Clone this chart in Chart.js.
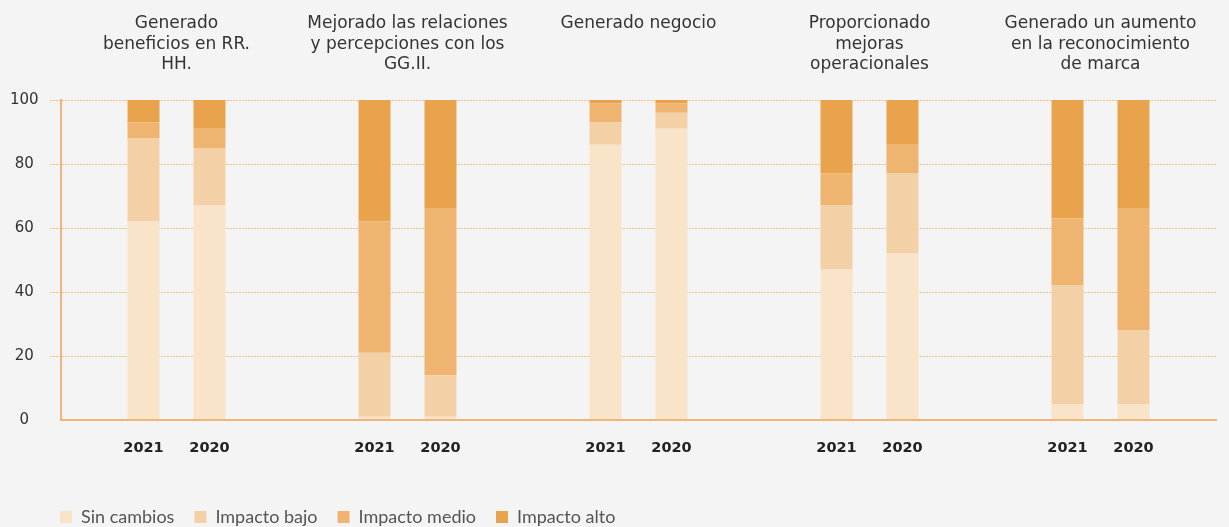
<!DOCTYPE html>
<html>
<head>
<meta charset="utf-8">
<script src="https://cdn.jsdelivr.net/npm/chart.js@4/dist/chart.umd.min.js"></script>
<style>
  html, body { margin: 0; padding: 0; background: #f4f4f4; }
  #wrap { width: 1229px; height: 527px; position: relative; }
</style>
</head>
<body>
<div id="wrap"><canvas id="impactChart"></canvas></div>
<script>
var categories = [
	["Generado", "beneficios en RR.", "HH."],
	["Mejorado las relaciones", "y percepciones con los", "GG.II."],
	["Generado negocio", "", ""],
	["Proporcionado", "mejoras", "operacionales"],
	["Generado un aumento", "en la reconocimiento", "de marca"]
];
var years = ["2021", "2020"];
var levels = ["Sin cambios", "Impacto bajo", "Impacto medio", "Impacto alto"];
var levelColors = ["#f9e3c9", "#f4d0a6", "#eeb470", "#e8a34c"];

var sinCambios2021   = [62, 1, 86, 47, 5];
var impactoBajo2021  = [26, 20, 7, 20, 37];
var impactoMedio2021 = [5, 41, 6, 10, 21];
var impactoAlto2021  = [7, 38, 1, 23, 37];

var sinCambios2020   = [67, 1, 91, 52, 5];
var impactoBajo2020  = [18, 13, 5, 25, 23];
var impactoMedio2020 = [6, 52, 3, 9, 38];
var impactoAlto2020  = [9, 34, 1, 14, 34];

var yTicks = [0, 20, 40, 60, 80, 100];

var seriesByYear = {
	"2021": [sinCambios2021, impactoBajo2021, impactoMedio2021, impactoAlto2021],
	"2020": [sinCambios2020, impactoBajo2020, impactoMedio2020, impactoAlto2020]
};

var datasets = [];
years.forEach(function(year) {
	levels.forEach(function(level, i) {
		datasets.push({
			label: level,
			stack: year,
			data: seriesByYear[year][i],
			backgroundColor: levelColors[i],
			borderWidth: 0,
			barPercentage: 0.485,
			categoryPercentage: 0.571
		});
	});
});

// year under each bar, placed at the bar's own x
var yearLabels = {
	id: "yearLabels",
	afterDraw: function(chart) {
		var ctx = chart.ctx;
		ctx.save();
		ctx.font = "bold 14.5px 'DejaVu Sans'";
		ctx.fillStyle = "#222";
		ctx.textAlign = "center";
		ctx.textBaseline = "middle";
		chart.data.datasets.forEach(function(ds, i) {
			if (ds.label !== levels[0]) return;
			chart.getDatasetMeta(i).data.forEach(function(bar) {
				ctx.fillText(ds.stack, bar.x, chart.chartArea.bottom + 28);
			});
		});
		ctx.restore();
	}
};

var gridColor = "#f3c089";
var axisColor = "#efb57a";

new Chart("impactChart", {
	type: "bar",
	data: {
		labels: categories,
		datasets: datasets
	},
	plugins: [yearLabels],
	options: {
		responsive: true,
		maintainAspectRatio: false,
		animation: false,
		layout: { padding: { left: 40, right: 13, top: 0, bottom: -9 } },
		plugins: {
			tooltip: { enabled: false },
			legend: {
				position: "bottom",
				align: "start",
				labels: {
					boxWidth: 12,
					boxHeight: 12,
					padding: 20,
					color: "#555",
					font: { family: "Lato", size: 18 },
					filter: function(item, data) {
						return data.datasets[item.datasetIndex].stack === years[0];
					}
				}
			}
		},
		scales: {
			x: {
				stacked: true,
				grid: { display: false },
				border: { color: axisColor, width: 2, z: 1 },
				ticks: { display: false },
				afterFit: function(s) { s.height = 68; }
			},
			titles: {
				type: "category",
				position: "top",
				labels: categories,
				offset: true,
				grid: { display: false, drawTicks: false },
				border: { display: false },
				ticks: {
					color: "#333",
					padding: 25,
					maxRotation: 0,
					autoSkip: false,
					font: { family: "'DejaVu Sans'", size: 17, lineHeight: 1.2 }
				},
				afterFit: function(s) { s.height = 100; }
			},
			y: {
				stacked: true,
				min: yTicks[0],
				max: yTicks[yTicks.length - 1],
				ticks: {
					stepSize: yTicks[1] - yTicks[0],
					// mirrored labels are not clipped to the narrow axis box
					mirror: true,
					crossAlign: "center",
					padding: -51,
					color: "#333",
					font: { family: "'DejaVu Sans'", size: 15 }
				},
				grid: {
					color: gridColor,
					lineWidth: 1,
					tickLength: 11,
					tickColor: function(c) { return c.tick && c.tick.value === 0 ? "rgba(0,0,0,0)" : gridColor; },
					tickBorderDash: [2, 1]
				},
				border: { color: axisColor, width: 2, dash: [2, 1] },
				afterFit: function(s) { s.width = 21; }
			}
		}
	}
});
</script>
</body>
</html>
